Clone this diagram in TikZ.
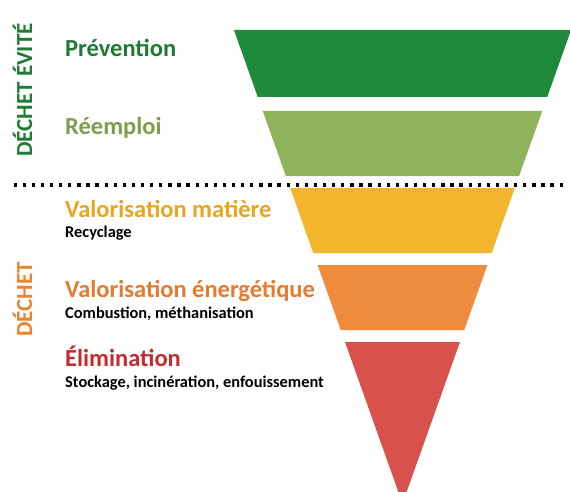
\documentclass[tikz,border=0pt]{standalone}
\usepackage{fontspec}
\setmainfont{Carlito}
\definecolor{bandA}{HTML}{208A3C}
\definecolor{bandB}{HTML}{8FB35C}
\definecolor{bandC}{HTML}{F2B62C}
\definecolor{bandD}{HTML}{EE8B3D}
\definecolor{bandE}{HTML}{D8524B}
\definecolor{txtA}{HTML}{1E7A35}
\definecolor{txtB}{HTML}{7D9E4C}
\definecolor{txtC}{HTML}{E9A51F}
\definecolor{txtD}{HTML}{E67A2E}
\definecolor{txtE}{HTML}{C42A2E}
\definecolor{sideA}{HTML}{1D7C36}
\definecolor{sideB}{HTML}{E8842E}
\tikzset{
  title/.style={anchor=base west, inner sep=0pt, font=\fontsize{24.5}{27}\selectfont\bfseries},
  sub/.style={anchor=base west, inner sep=0pt, font=\fontsize{16.4}{19}\selectfont\bfseries, text=black},
  side/.style={anchor=base west, inner sep=0pt, rotate=90, font=\fontsize{23}{26}\selectfont\bfseries},
  dotline/.style={line width=3.3pt, line cap=butt, dash pattern=on 3.3pt off 5.8pt},
}
\newcommand{\band}[3]{%
  \fill[#3] ({402.5-0.356*(503.5-#1)},#1) -- ({402.5+0.356*(503.5-#1)},#1)
    -- ({402.5+0.356*(503.5-#2)},#2) -- ({402.5-0.356*(503.5-#2)},#2) -- cycle;}
\begin{document}
\begin{tikzpicture}[x=1pt,y=-1pt]
\useasboundingbox[fill=white] (0,0) rectangle (570,492);
\begin{scope}
\clip (0,0) rectangle (570,492);
\band{30}{97}{bandA}
\band{111}{176}{bandB}
\band{188}{253}{bandC}
\band{265}{330}{bandD}
\band{342}{503.5}{bandE}
\end{scope}
\coordinate (dl) at (13.5,185);
\coordinate (dr) at (563,185);
\draw[dotline] (dl) -- (dr);
\node[side, text=sideA] (evite) at (32,157) {DÉCHET ÉVITÉ};
\node[side, text=sideB] (dechet) at (32,337) {DÉCHET};
\node[title, text=txtA] (prev) at (65,57) {Prévention};
\node[title, text=txtB] (reem) at (65,135) {Réemploi};
\node[title, text=txtC] (vmat) at (65,217) {Valorisation matière};
\node[sub] (recy) at (65,237) {Recyclage};
\node[title, text=txtD] (vene) at (65,297) {Valorisation énergétique};
\node[sub] (comb) at (65,318) {Combustion, méthanisation};
\node[title, text=txtE] (elim) at (65,366) {Élimination};
\node[sub] (stock) at (65,387) {Stockage, incinération, enfouissement};
\end{tikzpicture}
\end{document}
